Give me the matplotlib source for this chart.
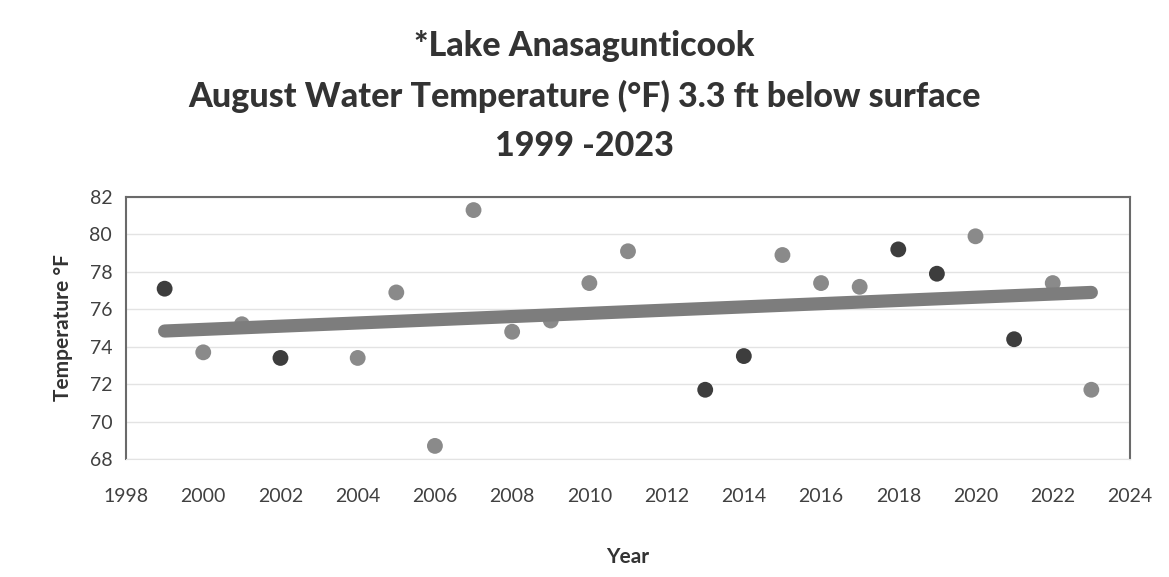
import matplotlib
matplotlib.use("Agg")
import matplotlib.pyplot as plt
import numpy as np

years = [1999, 2000, 2001, 2002, 2004, 2005, 2006, 2007, 2008, 2009, 2010, 2011,
         2013, 2014, 2015, 2016, 2017, 2018, 2019, 2020, 2021, 2022, 2023]
temps = [77.1, 73.7, 75.2, 73.4, 73.4, 76.9, 68.7, 81.3, 74.8, 75.4, 77.4, 79.1,
         71.7, 73.5, 78.9, 77.4, 77.2, 79.2, 77.9, 79.9, 74.4, 77.4, 71.7]
dark_years = [1999, 2002, 2013, 2014, 2018, 2019, 2021]
x_ticks = list(range(1998, 2025, 2))
y_ticks = list(range(68, 83, 2))

font = ["Lato", "DejaVu Sans"]
plt.rcParams['font.family'] = font

fig = plt.figure(figsize=(11.69, 5.77), dpi=100)
ax = fig.add_axes([0.1078, 0.2045, 0.8588, 0.4541])

# trend line (linear fit)
coef = np.polyfit(years, temps, 1)
tx = np.array([years[0], years[-1]])
ax.plot(tx, np.polyval(coef, tx), color="#7d7d7d", lw=9.5, solid_capstyle="round", zorder=3)

cols = ["#3d3d3d" if y in dark_years else "#8a8a8a" for y in years]
ax.scatter(years, temps, s=130, c=cols, zorder=2, linewidths=0)

ax.set_xlim(1998, 2024)
ax.set_ylim(68, 82)
ax.set_xticks(x_ticks)
ax.set_yticks(y_ticks)
ax.tick_params(length=0, labelsize=14, colors="#404040")
ax.tick_params(axis="x", pad=21)
ax.tick_params(axis="y", pad=10)
ax.grid(axis="y", color="#e3e3e3", lw=1)
ax.set_axisbelow(True)
for s in ["left", "top", "right"]:
    ax.spines[s].set_color("#6a6a6a")
    ax.spines[s].set_linewidth(1.5)
ax.spines["bottom"].set_color("#e3e3e3")

ax.set_xlabel("Year", fontsize=15, fontweight="bold", color="#333333", labelpad=30)
ax.set_ylabel("Temperature °F", fontsize=15, fontweight="bold", color="#333333", labelpad=12)

for yy, t in [(46, "*Lake Anasagunticook"),
              (96, "August Water Temperature (°F) 3.3 ft below surface"),
              (146, "1999 -2023")]:
    fig.text(0.5, 1 - yy / 577, t, ha="center", va="center", fontsize=24.5,
             fontweight="black", color="#333333")

fig.savefig("out.png", dpi=100)
